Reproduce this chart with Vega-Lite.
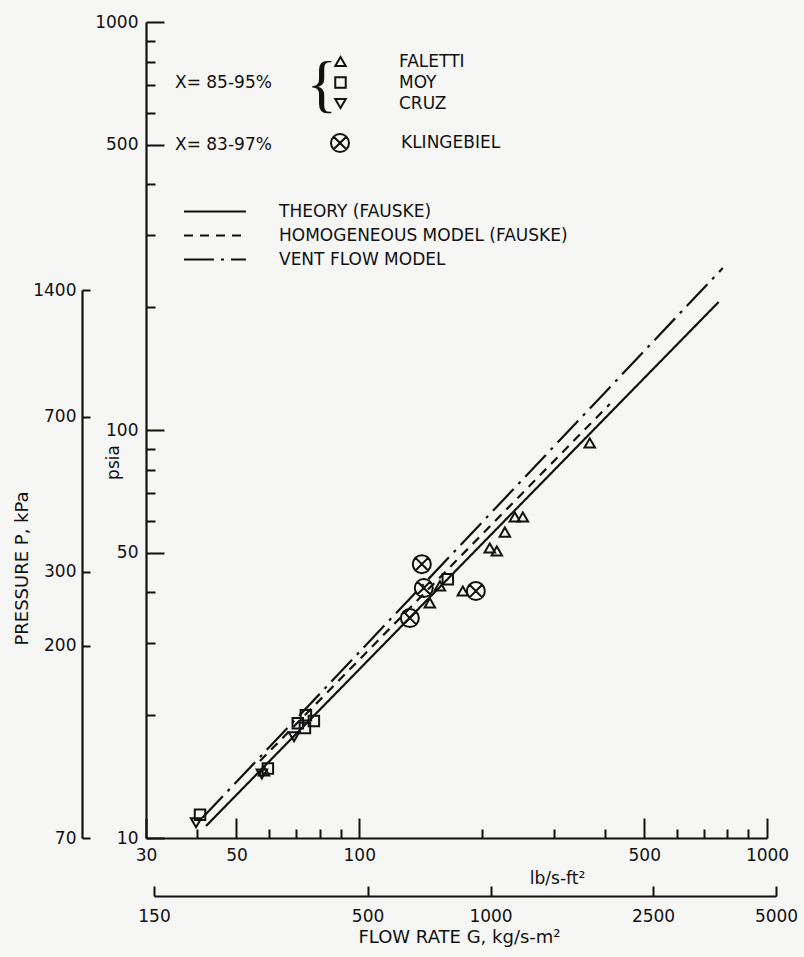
{
  "$schema": "https://vega.github.io/schema/vega-lite/v6.json",
  "width": 621,
  "height": 816,
  "autosize": {"type": "none"},
  "padding": {"left": 146, "top": 22, "right": 37, "bottom": 119},
  "background": "#f6f6f4",
  "config": {
    "view": {"stroke": null},
    "font": "DejaVu Sans",
    "axis": {
      "grid": false,
      "domainColor": "#111",
      "tickColor": "#111",
      "labelColor": "#111",
      "titleColor": "#111",
      "domainWidth": 2.2,
      "tickWidth": 2,
      "labelFont": "DejaVu Sans",
      "titleFont": "DejaVu Sans",
      "labelFontSize": 17,
      "titleFontSize": 17,
      "titleFontWeight": "normal",
      "labelFlush": false,
      "labelOverlap": false,
      "labelBound": false
    },
    "legend": {
      "labelFont": "DejaVu Sans",
      "titleFont": "DejaVu Sans",
      "labelFontSize": 17,
      "titleFontSize": 17,
      "titleFontWeight": "normal",
      "labelColor": "#111",
      "titleColor": "#111",
      "labelLimit": 400,
      "titleLimit": 400,
      "padding": 0
    }
  },
  "datasets": {
    "points": [
      {"series": "FALETTI", "lb": 367.6, "psia": 92.9},
      {"series": "FALETTI", "lb": 251.9, "psia": 61.2},
      {"series": "FALETTI", "lb": 240.8, "psia": 61.2},
      {"series": "FALETTI", "lb": 227.6, "psia": 56.2},
      {"series": "FALETTI", "lb": 217.5, "psia": 50.5},
      {"series": "FALETTI", "lb": 209.0, "psia": 51.4},
      {"series": "FALETTI", "lb": 179.5, "psia": 40.3},
      {"series": "FALETTI", "lb": 157.7, "psia": 41.5},
      {"series": "FALETTI", "lb": 149.0, "psia": 37.7},
      {"series": "FALETTI", "lb": 58.4, "psia": 14.6},
      {"series": "MOY", "lb": 164.9, "psia": 43.1},
      {"series": "MOY", "lb": 74.0, "psia": 20.0},
      {"series": "MOY", "lb": 77.4, "psia": 19.35},
      {"series": "MOY", "lb": 70.7, "psia": 19.1},
      {"series": "MOY", "lb": 73.6, "psia": 18.6},
      {"series": "MOY", "lb": 40.7, "psia": 11.4},
      {"series": "MOY", "lb": 59.7, "psia": 14.8},
      {"series": "CRUZ", "lb": 69.2, "psia": 17.7},
      {"series": "CRUZ", "lb": 39.8, "psia": 10.9},
      {"series": "CRUZ", "lb": 57.7, "psia": 14.35},
      {"series": "KLINGEBIEL", "lb": 142.4, "psia": 46.9},
      {"series": "KLINGEBIEL", "lb": 144.0, "psia": 41.0},
      {"series": "KLINGEBIEL", "lb": 193.2, "psia": 40.3},
      {"series": "KLINGEBIEL", "lb": 133.1, "psia": 34.6}
    ],
    "lines": [
      {"model": "THEORY (FAUSKE)", "lb": 42.1, "psia": 10.7},
      {"model": "THEORY (FAUSKE)", "lb": 761, "psia": 205.9},
      {"model": "HOMOGENEOUS MODEL (FAUSKE)", "lb": 57.1, "psia": 15.44},
      {"model": "HOMOGENEOUS MODEL (FAUSKE)", "lb": 411.6, "psia": 115.8},
      {"model": "VENT FLOW MODEL", "lb": 41.2, "psia": 11.19},
      {"model": "VENT FLOW MODEL", "lb": 779, "psia": 249.5}
    ]
  },
  "layer": [
    {
      "layer": [
        {
          "data": {"name": "lines"},
          "mark": {"type": "line", "color": "#111", "strokeWidth": 2.2},
          "encoding": {
            "x": {
              "field": "lb",
              "type": "quantitative",
              "title": "lb/s-ft²",
              "scale": {"type": "log", "domain": [30, 1000], "nice": false},
              "axis": {
                "orient": "top",
                "offset": -816,
                "values": [30, 40, 50, 60, 70, 80, 90, 100, 200, 300, 400, 500, 600, 700, 800, 900, 1000],
                "labelExpr": "(datum.value == 30 || datum.value == 50 || datum.value == 100 || datum.value == 500 || datum.value == 1000) ? format(datum.value, 'd') : ''",
                "tickSize": {"condition": {"test": "datum.value == 30 || datum.value == 50 || datum.value == 100 || datum.value == 500 || datum.value == 1000", "value": 20}, "value": 9},
                "labelPadding": -29,
                "labelBaseline": "top",
                "titleX": 411,
                "titleY": 40,
                "titleAlign": "center",
                "titleBaseline": "middle"
              }
            },
            "y": {
              "field": "psia",
              "type": "quantitative",
              "title": "psia",
              "scale": {"type": "log", "domain": [10, 1000], "nice": false},
              "axis": {
                "orient": "right",
                "offset": -621,
                "values": [10, 20, 30, 40, 50, 60, 70, 80, 90, 100, 200, 300, 400, 500, 600, 700, 800, 900, 1000],
                "labelExpr": "(datum.value == 10 || datum.value == 50 || datum.value == 100 || datum.value == 500 || datum.value == 1000) ? format(datum.value, 'd') : ''",
                "tickSize": {"condition": {"test": "datum.value == 10 || datum.value == 50 || datum.value == 100 || datum.value == 500 || datum.value == 1000", "value": 18}, "value": 9},
                "labelPadding": -26,
                "labelAlign": "right",
                "titleX": -33,
                "titleY": 440,
                "titleAngle": -90,
                "titleAlign": "center",
                "titleBaseline": "middle"
              }
            },
            "strokeDash": {
              "field": "model",
              "type": "nominal",
              "scale": {
                "domain": ["THEORY (FAUSKE)", "HOMOGENEOUS MODEL (FAUSKE)", "VENT FLOW MODEL"],
                "range": [[1, 0], [9, 7], [30, 7, 3, 7]]
              },
              "legend": {
                "orient": "none",
                "legendX": 37,
                "legendY": 181,
                "title": null,
                "symbolType": "stroke",
                "symbolSize": 3844,
                "symbolStrokeWidth": 2,
                "symbolStrokeColor": "#111",
                "clipHeight": 17,
                "rowPadding": 6,
                "labelOffset": 32
              }
            }
          }
        },
        {
          "data": {"name": "points"},
          "transform": [{"filter": "datum.series != 'KLINGEBIEL'"}],
          "mark": {"type": "point", "filled": false, "color": "#111", "strokeWidth": 2, "size": 110, "opacity": 1},
          "encoding": {
            "x": {"field": "lb", "type": "quantitative", "title": "lb/s-ft²"},
            "y": {"field": "psia", "type": "quantitative", "title": "psia"},
            "shape": {
              "field": "series",
              "type": "nominal",
              "scale": {"domain": ["FALETTI", "MOY", "CRUZ"], "range": ["triangle-up", "square", "triangle-down"]},
              "legend": {
                "orient": "none",
                "legendX": 29,
                "legendY": 31,
                "title": "X= 85-95%",
                "titleOrient": "left",
                "titleAnchor": "middle",
                "titleBaseline": "middle",
                "titlePadding": 60,
                "labelOffset": 50,
                "symbolSize": 110,
                "symbolStrokeWidth": 2,
                "symbolStrokeColor": "#111",
                "symbolFillColor": "transparent",
                "rowPadding": 2
              }
            }
          }
        },
        {
          "data": {"name": "points"},
          "transform": [{"filter": "datum.series == 'KLINGEBIEL'"}],
          "mark": {"type": "point", "filled": false, "color": "#111", "strokeWidth": 2, "size": 324, "opacity": 1},
          "encoding": {
            "x": {"field": "lb", "type": "quantitative", "title": "lb/s-ft²"},
            "y": {"field": "psia", "type": "quantitative", "title": "psia"},
            "shape": {
              "field": "series",
              "type": "nominal",
              "scale": {"domain": ["KLINGEBIEL"], "range": ["M-1,0A1,1,0,1,0,1,0A1,1,0,1,0,-1,0ZM-0.7,-0.7L0.7,0.7M0.7,-0.7L-0.7,0.7"]},
              "legend": {
                "orient": "none",
                "legendX": 29,
                "legendY": 111,
                "title": "X= 83-97%",
                "titleOrient": "left",
                "titleAnchor": "middle",
                "titleBaseline": "middle",
                "titlePadding": 58,
                "labelOffset": 51,
                "symbolSize": 324,
                "symbolStrokeWidth": 2,
                "symbolStrokeColor": "#111",
                "symbolFillColor": "transparent"
              }
            }
          }
        },
        {
          "data": {"values": [{"brace": "{"}]},
          "mark": {"type": "text", "font": "Liberation Serif", "fontSize": 64, "color": "#111", "align": "center", "baseline": "middle"},
          "encoding": {
            "x": {"datum": 81, "type": "quantitative"},
            "y": {"datum": 697, "type": "quantitative"},
            "text": {"field": "brace", "type": "nominal"}
          }
        }
      ],
      "resolve": {"scale": {"shape": "independent"}}
    },
    {
      "data": {"values": [{}]},
      "mark": {"type": "point", "opacity": 0},
      "encoding": {
        "x": {
          "datum": 1000,
          "type": "quantitative",
          "scale": {"type": "log", "domain": [150, 5000], "range": [8, 630], "nice": false},
          "axis": {
            "orient": "top",
            "offset": -874,
            "values": [150, 500, 1000, 2500, 5000],
            "format": "d",
            "tickSize": 10,
            "labelPadding": -22,
            "labelBaseline": "top",
            "title": "FLOW RATE G, kg/s-m²",
            "titleFontSize": 18,
            "titleX": 313,
            "titleY": 41,
            "titleAlign": "center",
            "titleBaseline": "middle"
          }
        }
      }
    },
    {
      "data": {"values": [{}]},
      "mark": {"type": "point", "opacity": 0},
      "encoding": {
        "y": {
          "datum": 700,
          "type": "quantitative",
          "scale": {"type": "log", "domain": [70, 1400], "range": [816, 268], "nice": false},
          "axis": {
            "orient": "right",
            "offset": -685,
            "values": [70, 200, 300, 700, 1400],
            "format": "d",
            "tickSize": 8,
            "labelPadding": -14,
            "labelAlign": "right",
            "title": "PRESSURE P, kPa",
            "titleFontSize": 18,
            "titleX": -60,
            "titleY": 546,
            "titleAngle": -90,
            "titleAlign": "center",
            "titleBaseline": "middle"
          }
        }
      }
    }
  ],
  "resolve": {"scale": {"x": "independent", "y": "independent"}}
}
